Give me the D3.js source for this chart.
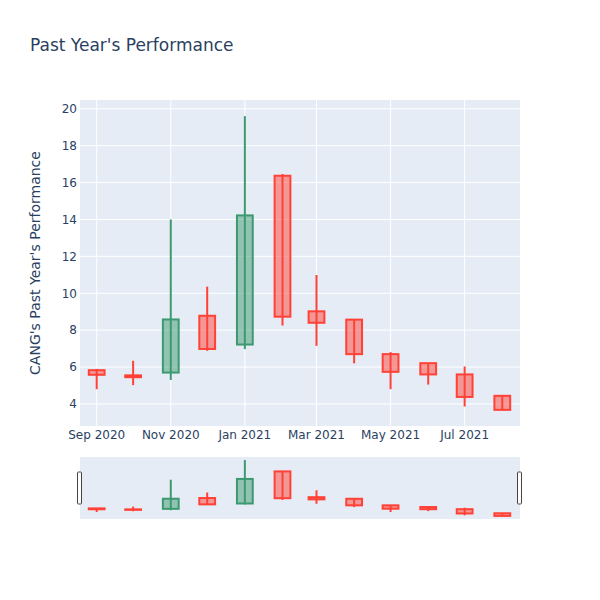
<!DOCTYPE html>
<html>
<head>
<meta charset="utf-8">
<script src="https://cdn.jsdelivr.net/npm/d3@7"></script>
<style>
  body { margin: 0; background: #fff; }
  text { font-family: "DejaVu Sans", sans-serif; fill: #2a3f5f; }
</style>
</head>
<body>
<div id="chart"></div>
<script>
// monthly candles
const months = ["2020-09-01", "2020-10-01", "2020-11-01", "2020-12-01", "2021-01-01", "2021-02-01",
                "2021-03-01", "2021-04-01", "2021-05-01", "2021-06-01", "2021-07-01", "2021-08-01"];
const openVals  = [5.83, 5.55, 5.70, 8.78, 7.22, 16.37, 9.02, 8.57, 6.70, 6.21, 5.60, 4.44];
const highVals  = [5.90, 6.34, 14.0, 10.36, 19.6, 16.46, 10.99, 8.58, 6.81, 6.21, 6.03, 4.44];
const lowVals   = [4.80, 5.02, 5.30, 6.88, 6.97, 8.25, 7.15, 6.20, 4.80, 5.05, 3.86, 3.68];
const closeVals = [5.58, 5.45, 8.58, 6.98, 14.22, 8.73, 8.40, 6.70, 5.74, 5.60, 4.38, 3.68];

const xTickDates = ["2020-09-01", "2020-11-01", "2021-01-01", "2021-03-01", "2021-05-01", "2021-07-01"];
const yTickVals = [4, 6, 8, 10, 12, 14, 16, 18, 20];

const parse = d3.utcParse("%Y-%m-%d");
const data = months.map((m, i) => ({
  date: parse(m), open: openVals[i], high: highVals[i], low: lowVals[i], close: closeVals[i]
}));

const width = 600, height = 600;
const plotLeft = 80, plotRight = 520, plotTop = 100, plotBottom = 426;
const sliderTop = 457, sliderBottom = 519;

const svg = d3.select("#chart").append("svg")
  .attr("width", width)
  .attr("height", height);

const x = d3.scaleUtc()
  .domain([new Date(Date.UTC(2020, 7, 18, 6)), new Date(Date.UTC(2021, 7, 15, 14))])
  .range([plotLeft, plotRight]);

// y range padded like plotly's autorange
const lo = d3.min(lowVals), hi = d3.max(highVals), pad = (hi - lo) * 0.05;
const y = d3.scaleLinear().domain([lo - pad * 1.1, hi + pad * 1.1]).range([plotBottom, plotTop]);
const ySlider = d3.scaleLinear().domain(y.domain()).range([sliderBottom, sliderTop]);

const inc = "#3D9970", dec = "#FF4136";
const halfBox = 6.5 * 24 * 3600 * 1000;

// background
svg.append("rect")
  .attr("x", plotLeft).attr("y", plotTop)
  .attr("width", plotRight - plotLeft).attr("height", plotBottom - plotTop)
  .attr("fill", "#E5ECF6");

// grid
svg.append("g").selectAll("line")
  .data(yTickVals)
  .enter().append("line")
  .attr("x1", plotLeft).attr("x2", plotRight)
  .attr("y1", d => y(d)).attr("y2", d => y(d))
  .attr("stroke", "#fff").attr("stroke-width", 1);

svg.append("g").selectAll("line")
  .data(xTickDates.map(parse))
  .enter().append("line")
  .attr("x1", d => x(d)).attr("x2", d => x(d))
  .attr("y1", plotTop).attr("y2", plotBottom)
  .attr("stroke", "#fff").attr("stroke-width", 1);

// candles
function drawCandles(g, ys, lw) {
  const c = g.selectAll(".candle")
    .data(data)
    .enter().append("g")
    .attr("class", "candle");

  const col = d => d.close >= d.open ? inc : dec;

  c.append("line")
    .attr("x1", d => x(d.date)).attr("x2", d => x(d.date))
    .attr("y1", d => ys(d.high)).attr("y2", d => ys(d.low))
    .attr("stroke", col).attr("stroke-width", lw);

  c.append("rect")
    .attr("x", d => x(new Date(+d.date - halfBox)))
    .attr("width", d => x(new Date(+d.date + halfBox)) - x(new Date(+d.date - halfBox)))
    .attr("y", d => ys(Math.max(d.open, d.close)))
    .attr("height", d => Math.max(ys(Math.min(d.open, d.close)) - ys(Math.max(d.open, d.close)), 0.5))
    .attr("fill", col).attr("fill-opacity", 0.5)
    .attr("stroke", col).attr("stroke-width", lw);
}

drawCandles(svg.append("g"), y, 2);

// axes labels
svg.append("g").selectAll("text")
  .data(yTickVals)
  .enter().append("text")
  .attr("x", plotLeft - 3)
  .attr("y", d => y(d))
  .attr("dy", "0.36em")
  .attr("text-anchor", "end")
  .style("font-size", "12px")
  .text(d => d);

svg.append("g").selectAll("text")
  .data(xTickDates.map(parse))
  .enter().append("text")
  .attr("x", d => x(d))
  .attr("y", plotBottom + 13)
  .attr("text-anchor", "middle")
  .style("font-size", "12px")
  .text(d => d3.utcFormat("%b %Y")(d));

svg.append("text")
  .attr("transform", `translate(40,${(plotTop + plotBottom) / 2}) rotate(-90)`)
  .attr("text-anchor", "middle")
  .style("font-size", "14px")
  .text("CANG's Past Year's Performance");

svg.append("text")
  .attr("x", 30).attr("y", 51)
  .style("font-size", "17px")
  .text("Past Year's Performance");

// range slider
svg.append("rect")
  .attr("x", plotLeft).attr("y", sliderTop)
  .attr("width", plotRight - plotLeft).attr("height", sliderBottom - sliderTop)
  .attr("fill", "#E5ECF6");

drawCandles(svg.append("g"), ySlider, 2);

const grabH = 32, grabY = (sliderTop + sliderBottom) / 2 - grabH / 2;
svg.append("g").selectAll("rect")
  .data([plotLeft, plotRight])
  .enter().append("rect")
  .attr("x", d => d - 2.5)
  .attr("y", grabY)
  .attr("width", 4).attr("height", grabH)
  .attr("rx", 1)
  .attr("fill", "#fff")
  .attr("stroke", "#444").attr("stroke-width", 1);
</script>
</body>
</html>
